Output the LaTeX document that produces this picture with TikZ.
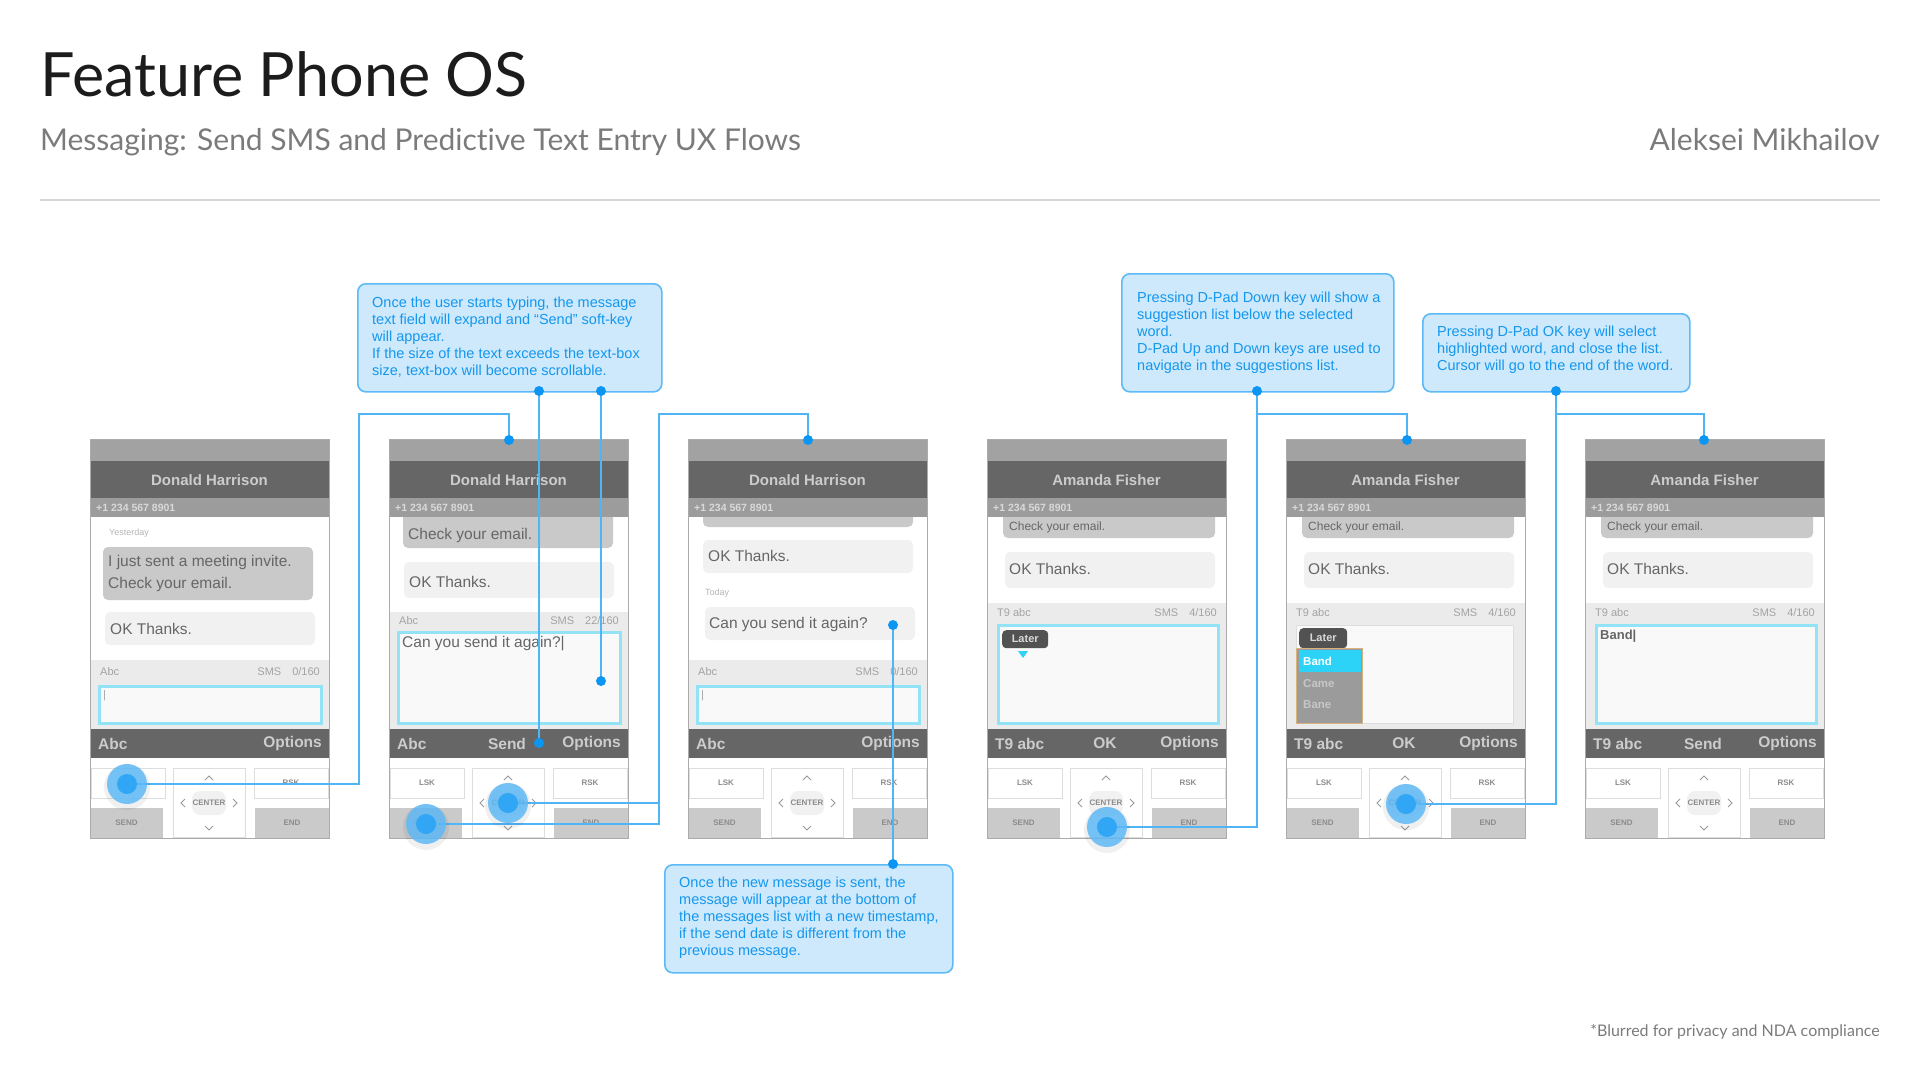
\documentclass[tikz,border=0pt]{standalone}
\usepackage{fontspec}
\setmainfont{Liberation Sans}
\newfontfamily\latofont[Ligatures=NoCommon]{Lato}
\definecolor{cttl}{HTML}{1C1C1C}
\definecolor{csub}{HTML}{7B7B7B}
\definecolor{crule}{HTML}{D6D6D6}
\definecolor{cfill}{HTML}{CDE9FB}
\definecolor{cbord}{HTML}{5DBAF6}
\definecolor{ctext}{HTML}{1597EE}
\definecolor{cconn}{HTML}{50B5F6}
\definecolor{cdot}{HTML}{0C96F2}
\definecolor{chalo}{HTML}{5FB9F6}
\definecolor{cframe}{HTML}{ABABAB}
\definecolor{cstat}{HTML}{A2A2A2}
\definecolor{ctbar}{HTML}{666666}
\definecolor{csbar}{HTML}{9C9C9C}
\definecolor{cbubd}{HTML}{C9C9C9}
\definecolor{cbubl}{HTML}{F1F1F1}
\definecolor{chdr}{HTML}{EBEBEB}
\definecolor{cinb}{HTML}{93E3F7}
\definecolor{cinf}{HTML}{F9F9F9}
\definecolor{ckey}{HTML}{DDDDDD}
\definecolor{ckeyg}{HTML}{CACACA}
\definecolor{chl}{HTML}{2DD3F7}
\definecolor{clist}{HTML}{9B9B9B}
\definecolor{clistb}{HTML}{D8B27E}
\definecolor{cbt}{HTML}{666666}
\definecolor{clbl}{HTML}{B5B5B5}
\definecolor{chdt}{HTML}{A3A3A3}

\newcommand{\phonebg}[1]{\fill[white] (#1,439) rectangle ({#1+239},838);}
\newcommand{\phonetop}[3]{%
\begin{scope}[shift={(#1,0)}]
\fill[cstat] (0,439) rectangle (239,461);
\fill[ctbar] (0,461) rectangle (239,498);
\node[phname] (#2-name) at (119.5,480) {#3};
\fill[csbar] (0,498) rectangle (239,517);
\node[phnum] (#2-num) at (6,507.5) {+1 234 567 8901};
\end{scope}}
\newcommand{\phonebot}[5]{%
\begin{scope}[shift={(#1,0)}]
\fill[ctbar] (0,729) rectangle (239,758);
\node[sk, anchor=west] (#2-skl) at (8,743.5) {#3};
\node[sk] (#2-skm) at (118,743.5) {#4};
\node[sk, anchor=east] (#2-skr) at (232,743.5) {#5};
\draw[keyb] (1,768) rectangle (75,798);
\node[keyt] (#2-lsk) at (38,783) {LSK};
\draw[keyb] (83,768) rectangle (155,837);
\fill[cbubl, rounded corners=8pt] (102,791) rectangle (136,815);
\node[keyt] (#2-ctr) at (119,803) {CENTER};
\draw[chev] (115,780) -- (119,776) -- (123,780);
\draw[chev] (115,826) -- (119,830) -- (123,826);
\draw[chev] (95,799) -- (91,803) -- (95,807);
\draw[chev] (143,799) -- (147,803) -- (143,807);
\draw[keyb] (164,768) rectangle (238,798);
\node[keyt] (#2-rsk) at (201,783) {RSK};
\fill[ckeyg] (0,808) rectangle (73,838);
\node[keyt] (#2-send) at (36.5,823) {SEND};
\fill[ckeyg] (165,808) rectangle (239,838);
\node[keyt] (#2-end) at (202,823) {END};
\draw[cframe, line width=1pt] (0,439) rectangle (239,838);
\end{scope}}

\begin{document}
\begin{tikzpicture}[x=1pt,y=-1pt,
  conn/.style={draw=cconn, line width=1.8pt},
  callout/.style={draw=cbord, fill=cfill, line width=1.6pt, rounded corners=8pt, inner sep=0pt, anchor=north west},
  caltxt/.style={anchor=west, align=left, text=ctext, font=\fontsize{14.5}{17}\selectfont, inner sep=0pt},
  phname/.style={font=\fontsize{15}{15}\selectfont\bfseries, text=white!80!black, inner sep=0pt},
  phnum/.style={anchor=west, font=\fontsize{10.5}{10.5}\selectfont\bfseries, text=white!85!black, inner sep=0pt},
  sk/.style={font=\fontsize{15.5}{15.5}\selectfont\bfseries, text=white!80!black, inner sep=0pt},
  keyb/.style={draw=ckey, line width=1pt, fill=white},
  keyt/.style={font=\fontsize{8}{8}\selectfont\bfseries, text=black!45, inner sep=0pt},
  chev/.style={draw=black!40, line width=0.8pt},
  bub/.style={fill=cbubd, rounded corners=5pt},
  bubl/.style={fill=cbubl, rounded corners=5pt},
  bt/.style={anchor=west, align=left, font=\fontsize{15.5}{22}\selectfont, text=cbt, inner sep=0pt},
  lbl/.style={anchor=west, font=\fontsize{9}{9}\selectfont, text=clbl, inner sep=0pt},
  hdrt/.style={font=\fontsize{11}{11}\selectfont, text=chdt, inner sep=0pt},
  inbox/.style={fill=cinf, draw=cinb, line width=3pt},
  inboxg/.style={fill=cinf, draw=ckey, line width=1pt},
  chip/.style={anchor=north west, fill=black!68, rounded corners=4pt, text=white!85!black, font=\fontsize{11}{11}\selectfont\bfseries, inner sep=0pt, minimum width=46pt, minimum height=18pt},
  listt/.style={anchor=west, font=\fontsize{11.5}{11.5}\selectfont\bfseries, text=black!22, inner sep=0pt}
]
\useasboundingbox (0,0) rectangle (1920,1080);
\fill[white] (0,0) rectangle (1920,1080);

% ---------- header ----------
\node[anchor=base west, inner sep=0pt, font=\latofont\fontsize{61}{61}\selectfont, text=cttl] (title) at (40,96) {Feature Phone OS};
\node[anchor=base west, inner sep=0pt, font=\latofont\fontsize{30}{30}\selectfont, text=csub] (subtitle) at (40,150) {Messaging: Send SMS and Predictive Text Entry UX Flows};
\node[anchor=base east, inner sep=0pt, font=\latofont\fontsize{30}{30}\selectfont, text=csub] (author) at (1880,150) {Aleksei Mikhailov};
\draw[crule, line width=2pt] (40,200) -- (1880,200);

% ---------- phone 1 ----------
\phonebg{90}
\begin{scope}[shift={(90,0)}]
\node[lbl] (p1-day) at (19,533) {Yesterday};
\fill[bub] (13,547) rectangle (223,600);
\node[bt] (p1-b1) at (18,573.5) {I just sent a meeting invite.\\Check your email.};
\fill[bubl] (15,612) rectangle (225,645);
\node[bt] (p1-b2) at (20,628.5) {OK Thanks.};
\fill[chdr] (0,660) rectangle (239,729);
\node[hdrt, anchor=west] (p1-h1) at (10,672) {Abc};
\node[hdrt, anchor=east] (p1-h2) at (230,672) {SMS\quad 0/160};
\draw[inbox] (9,686) rectangle (231,723);
\node[hdrt, anchor=west] (p1-cur) at (13,696) {|};
\end{scope}
\phonetop{90}{p1}{Donald Harrison}
\phonebot{90}{p1}{Abc}{}{Options}

% ---------- phone 2 ----------
\phonebg{389}
\begin{scope}[shift={(389,0)}]
\fill[bub] (14,505) rectangle (224,548);
\node[bt] (p2-b1) at (19,535) {Check your email.};
\fill[bubl] (15,562) rectangle (225,598);
\node[bt] (p2-b2) at (20,582) {OK Thanks.};
\fill[chdr] (0,612) rectangle (239,729);
\node[hdrt, anchor=west] (p2-h1) at (10,621) {Abc};
\node[hdrt, anchor=east] (p2-h2) at (230,621) {SMS\quad 22/160};
\draw[inbox] (9,632) rectangle (231,723);
\node[bt] (p2-in) at (13,644) {Can you send it again?|};
\end{scope}
\phonetop{389}{p2}{Donald Harrison}
\phonebot{389}{p2}{Abc}{Send}{Options}

% ---------- phone 3 ----------
\phonebg{688}
\begin{scope}[shift={(688,0)}]
\fill[bub] (15,505) rectangle (225,527);
\fill[bubl] (15,540) rectangle (225,573);
\node[bt] (p3-b1) at (20,556) {OK Thanks.};
\node[lbl] (p3-day) at (17,593) {Today};
\fill[bubl] (17,607) rectangle (227,640);
\node[bt] (p3-b2) at (21,624) {Can you send it again?};
\fill[chdr] (0,660) rectangle (239,729);
\node[hdrt, anchor=west] (p3-h1) at (10,672) {Abc};
\node[hdrt, anchor=east] (p3-h2) at (230,672) {SMS\quad 0/160};
\draw[inbox] (9,686) rectangle (231,723);
\node[hdrt, anchor=west] (p3-cur) at (13,696) {|};
\end{scope}
\phonetop{688}{p3}{Donald Harrison}
\phonebot{688}{p3}{Abc}{}{Options}

% ---------- phone 4 ----------
\phonebg{987}
\begin{scope}[shift={(987,0)}]
\fill[bub] (16,505) rectangle (228,538);
\node[bt, font=\fontsize{12}{12}\selectfont] (p4-b0) at (22,527.5) {Check your email.};
\fill[bubl] (18,552) rectangle (228,588);
\node[bt] (p4-b1) at (22,569) {OK Thanks.};
\fill[chdr] (0,603) rectangle (239,729);
\node[hdrt, anchor=west] (p4-h1) at (10,613) {T9 abc};
\node[hdrt, anchor=east] (p4-h2) at (230,613) {SMS\quad 4/160};
\draw[inbox] (11,625) rectangle (231,723);
\node[chip] (p4-chip) at (15,630) {Later};
\fill[chl] (31,651) -- (41,651) -- (36,658) -- cycle;
\end{scope}
\phonetop{987}{p4}{Amanda Fisher}
\phonebot{987}{p4}{T9 abc}{OK}{Options}

% ---------- phone 5 ----------
\phonebg{1286}
\begin{scope}[shift={(1286,0)}]
\fill[bub] (16,505) rectangle (228,538);
\node[bt, font=\fontsize{12}{12}\selectfont] (p5-b0) at (22,527.5) {Check your email.};
\fill[bubl] (18,552) rectangle (228,588);
\node[bt] (p5-b1) at (22,569) {OK Thanks.};
\fill[chdr] (0,603) rectangle (239,729);
\node[hdrt, anchor=west] (p5-h1) at (10,613) {T9 abc};
\node[hdrt, anchor=east] (p5-h2) at (230,613) {SMS\quad 4/160};
\draw[inboxg] (10,625) rectangle (227,723);
\node[chip, minimum width=48pt, minimum height=20pt] (p5-chip) at (13,628) {Later};
\draw[fill=clist, draw=clistb, line width=1pt] (10,648) rectangle (76,723);
\fill[chl] (13,650) rectangle (75,672);
\node[listt, text=white] (p5-l1) at (17,661) {Band};
\node[listt] (p5-l2) at (17,684) {Came};
\node[listt] (p5-l3) at (17,705) {Bane};
\end{scope}
\phonetop{1286}{p5}{Amanda Fisher}
\phonebot{1286}{p5}{T9 abc}{OK}{Options}

% ---------- phone 6 ----------
\phonebg{1585}
\begin{scope}[shift={(1585,0)}]
\fill[bub] (16,505) rectangle (228,538);
\node[bt, font=\fontsize{12}{12}\selectfont] (p6-b0) at (22,527.5) {Check your email.};
\fill[bubl] (18,552) rectangle (228,588);
\node[bt] (p6-b1) at (22,569) {OK Thanks.};
\fill[chdr] (0,603) rectangle (239,729);
\node[hdrt, anchor=west] (p6-h1) at (10,613) {T9 abc};
\node[hdrt, anchor=east] (p6-h2) at (230,613) {SMS\quad 4/160};
\draw[inbox] (11,625) rectangle (231,723);
\node[bt, font=\fontsize{13}{13}\selectfont\bfseries] (p6-in) at (15,636) {Band|};
\end{scope}
\phonetop{1585}{p6}{Amanda Fisher}
\phonebot{1585}{p6}{T9 abc}{Send}{Options}

% ---------- callouts ----------
\node[callout, minimum width=304pt, minimum height=108pt] (cA) at (357,283) {};
\node[caltxt] (cAt) at (372,337) {Once the user starts typing, the message\\text field will expand and “Send” soft-key\\will appear.\\If the size of the text exceeds the text-box\\size, text-box will become scrollable.};
\node[callout, minimum width=288pt, minimum height=108pt] (cB) at (664,864) {};
\node[caltxt] (cBt) at (679,918) {Once the new message is sent, the\\message will appear at the bottom of\\the messages list with a new timestamp,\\if the send date is different from the\\previous message.};
\node[callout, minimum width=272pt, minimum height=118pt] (cC) at (1121,273) {};
\node[caltxt] (cCt) at (1137,333) {Pressing D-Pad Down key will show a\\suggestion list below the selected\\word.\\D-Pad Up and Down keys are used to\\navigate in the suggestions list.};
\node[callout, minimum width=267pt, minimum height=78pt] (cD) at (1422,313) {};
\node[caltxt] (cDt) at (1437,350) {Pressing D-Pad OK key will select\\highlighted word, and close the list.\\Cursor will go to the end of the word.};

% ---------- connector points ----------
\coordinate (t1) at (127,784);
\coordinate (j1) at (359,414);
\coordinate (d2top) at (509,440);
\coordinate (dA1) at (539,391);
\coordinate (dSend) at (539,743);
\coordinate (dA2) at (601,391);
\coordinate (dIn) at (601,681);
\coordinate (t2a) at (508,803);
\coordinate (t2b) at (426,824);
\coordinate (j2) at (659,414);
\coordinate (j2a) at (659,803);
\coordinate (d3top) at (808,440);
\coordinate (d3msg) at (893,625);
\coordinate (dB) at (893,864);
\coordinate (t4) at (1107,827);
\coordinate (dC) at (1257,391);
\coordinate (j4) at (1257,414);
\coordinate (d5top) at (1407,440);
\coordinate (t5) at (1406,804);
\coordinate (dD) at (1556,391);
\coordinate (j5) at (1556,414);
\coordinate (d6top) at (1704,440);

% ---------- connectors ----------
\draw[conn] (t1) -| (j1) -| (d2top);
\draw[conn] (dA1) -- (dSend);
\draw[conn] (dA2) -- (dIn);
\draw[conn] (t2a) -- (j2a);
\draw[conn] (t2b) -| (j2) -| (d3top);
\draw[conn] (d3msg) -- (dB);
\draw[conn] (t4) -| (dC);
\draw[conn] (j4) -| (d5top);
\draw[conn] (t5) -| (dD);
\draw[conn] (j5) -| (d6top);

% ---------- dots ----------
\foreach \p in {d2top,dA1,dSend,dA2,dIn,d3top,d3msg,dB,dC,d5top,dD,d6top}
  \fill[cdot] (\p) circle (5pt);

% ---------- touch indicators ----------
\foreach \p in {t1,t2a,t2b,t4,t5}{
  \fill[black, opacity=0.06] ([yshift=-3pt]\p) circle (23pt);
  \fill[chalo, opacity=0.85] (\p) circle (20pt);
  \fill[cdot!85!white] (\p) circle (10pt);
}

% ---------- footnote ----------
\node[anchor=base east, inner sep=0pt, font=\latofont\fontsize{16}{16}\selectfont, text=csub] (foot) at (1880,1036) {*Blurred for privacy and NDA compliance};
\end{tikzpicture}
\end{document}
